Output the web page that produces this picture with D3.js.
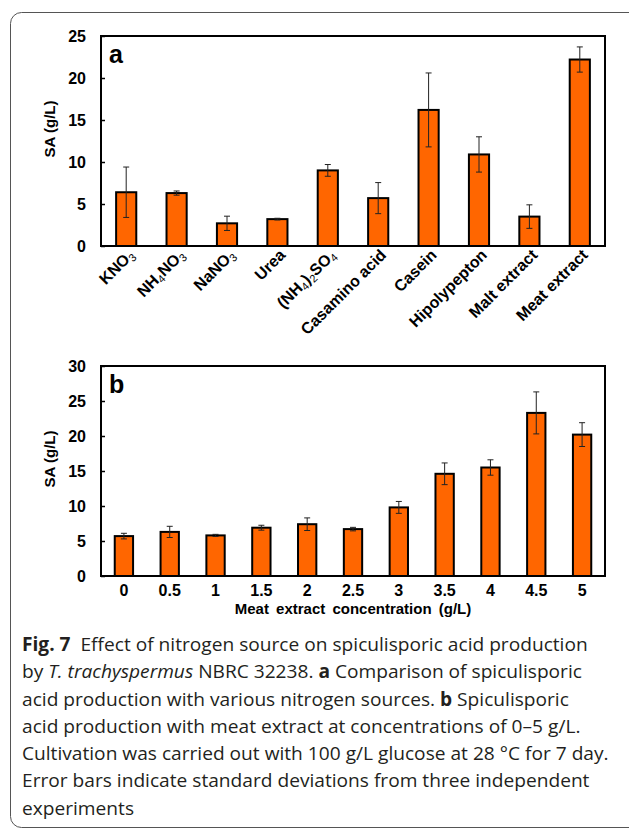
<!DOCTYPE html>
<html>
<head>
<meta charset="utf-8">
<script src="https://cdn.jsdelivr.net/npm/d3@7"></script>
<style>
  body { margin: 0; background: #fff; }
  svg { display: block; }
</style>
</head>
<body>
<div id="fig"></div>
<script>
// panel a: nitrogen sources ("_n" marks a subscript digit)
const sourcesA = ["KNO_3", "NH_4NO_3", "NaNO_3", "Urea", "(NH_4)_2SO_4", "Casamino acid", "Casein", "Hipolypepton", "Malt extract", "Meat extract"];
const meanA = [6.4, 6.3, 2.7, 3.2, 9.0, 5.7, 16.2, 10.9, 3.5, 22.2];
const sdA = [3.0, 0.25, 0.85, 0.1, 0.7, 1.85, 4.4, 2.1, 1.4, 1.5];
const ticksA = [0, 5, 10, 15, 20, 25];

// panel b: meat extract concentration (g/L)
const concB = ["0", "0.5", "1", "1.5", "2", "2.5", "3", "3.5", "4", "4.5", "5"];
const meanB = [5.7, 6.3, 5.8, 6.9, 7.4, 6.7, 9.8, 14.6, 15.5, 23.3, 20.2];
const sdB = [0.4, 0.8, 0.15, 0.35, 0.9, 0.25, 0.85, 1.55, 1.1, 3.0, 1.7];
const ticksB = [0, 5, 10, 15, 20, 25, 30];

const captionLines = [
  [["Fig. 7", "b"], ["  Effect of nitrogen source on spiculisporic acid production", ""]],
  [["by ", ""], ["T. trachyspermus", "i"], [" NBRC 32238. ", ""], ["a", "b"], [" Comparison of spiculisporic", ""]],
  [["acid production with various nitrogen sources. ", ""], ["b", "b"], [" Spiculisporic", ""]],
  [["acid production with meat extract at concentrations of 0\u20135 g/L.", ""]],
  [["Cultivation was carried out with 100 g/L glucose at 28 \u00b0C for 7 day.", ""]],
  [["Error bars indicate standard deviations from three independent", ""]],
  [["experiments", ""]]
];

const W = 629, H = 829;
const axisFont = "Arial, 'Liberation Sans', sans-serif";
const orange = "#ff6600";

const svg = d3.select("#fig").append("svg")
  .attr("width", W)
  .attr("height", H);

// outer rounded frame
svg.append("rect")
  .attr("x", 10.5).attr("y", 12.5)
  .attr("width", 640).attr("height", 815)
  .attr("rx", 11)
  .attr("fill", "none")
  .attr("stroke", "#555")
  .attr("stroke-width", 1);

function drawPanel(opts) {
  const { left, right, top, bottom, cats, means, sds, ticks, ymax, letter, pad } = opts;

  const x = d3.scaleBand().domain(cats).range([left, right]).paddingInner(pad).paddingOuter(pad / 2);
  const y = d3.scaleLinear().domain([0, ymax]).range([bottom, top]);

  const g = svg.append("g");

  // y axis with inward ticks
  const yAxis = g.append("g")
    .attr("transform", `translate(${left},0)`)
    .call(d3.axisLeft(y).tickValues(ticks).tickSizeInner(-4).tickSizeOuter(0).tickPadding(15));
  yAxis.select(".domain").remove();
  yAxis.selectAll("line").attr("stroke", "#000").attr("stroke-width", 1.5);
  yAxis.selectAll("text")
    .style("font-family", axisFont)
    .style("font-size", "16px")
    .style("font-weight", "bold")
    .attr("fill", "#000");

  // bars
  const data = cats.map((c, i) => ({ c, m: means[i], s: sds[i] }));
  g.selectAll("rect.bar")
    .data(data)
    .enter()
    .append("rect")
      .attr("class", "bar")
      .attr("x", d => x(d.c))
      .attr("y", d => y(d.m))
      .attr("width", x.bandwidth())
      .attr("height", d => y(0) - y(d.m))
      .attr("fill", orange)
      .attr("stroke", "#000")
      .attr("stroke-width", 2);

  // error bars
  const eb = g.selectAll("g.err")
    .data(data)
    .enter()
    .append("g")
      .attr("class", "err")
      .attr("stroke", "#222")
      .attr("stroke-width", 1);
  const cx = d => x(d.c) + x.bandwidth() / 2;
  eb.append("line")
    .attr("x1", cx).attr("x2", cx)
    .attr("y1", d => y(d.m + d.s)).attr("y2", d => y(d.m - d.s));
  eb.append("line")
    .attr("x1", d => cx(d) - 3).attr("x2", d => cx(d) + 3)
    .attr("y1", d => y(d.m + d.s)).attr("y2", d => y(d.m + d.s));
  eb.append("line")
    .attr("x1", d => cx(d) - 3).attr("x2", d => cx(d) + 3)
    .attr("y1", d => y(d.m - d.s)).attr("y2", d => y(d.m - d.s));

  // plot frame
  g.append("rect")
    .attr("x", left).attr("y", top)
    .attr("width", right - left).attr("height", bottom - top)
    .attr("fill", "none")
    .attr("stroke", "#000")
    .attr("stroke-width", 2);

  // panel letter
  g.append("text")
    .attr("x", left + 8).attr("y", top + 27)
    .style("font-family", axisFont)
    .style("font-size", "25px")
    .style("font-weight", "bold")
    .text(letter);

  // y axis title
  g.append("text")
    .attr("transform", `translate(55,${top + 93}) rotate(-90)`)
    .attr("text-anchor", "middle")
    .style("font-family", axisFont)
    .style("font-size", "15px")
    .style("font-weight", "bold")
    .text("SA (g/L)");

  return { x, y, g };
}

// panel a
const pa = drawPanel({
  left: 101, right: 605, top: 36, bottom: 246,
  cats: sourcesA, means: meanA, sds: sdA, ticks: ticksA, ymax: 25, letter: "a", pad: 0.6
});

// rotated category labels with subscripts
pa.g.selectAll("text.cat")
  .data(sourcesA)
  .enter()
  .append("text")
    .attr("class", "cat")
    .attr("text-anchor", "end")
    .attr("transform", d => `translate(${pa.x(d) + pa.x.bandwidth() / 2 + 9},256) rotate(-45)`)
    .style("font-family", axisFont)
    .style("font-size", "16px")
    .style("font-weight", "bold")
    .each(function(d) {
      const t = d3.select(this);
      const parts = d.split(/_(\d)/);
      parts.forEach((p, i) => {
        if (!p) return;
        if (i % 2 === 1) {
          t.append("tspan").attr("dy", 3).style("font-size", "11px").style("font-weight", "normal").text(p);
        } else {
          t.append("tspan").attr("dy", i > 0 ? -3 : 0).text(p);
        }
      });
    });

// panel b
const pb = drawPanel({
  left: 101, right: 605, top: 366, bottom: 576,
  cats: concB, means: meanB, sds: sdB, ticks: ticksB, ymax: 30, letter: "b", pad: 0.6
});

const xAxisB = pb.g.append("g")
  .attr("transform", "translate(0,576)")
  .call(d3.axisBottom(pb.x).tickSize(0).tickPadding(9));
xAxisB.select(".domain").remove();
xAxisB.selectAll("text")
  .style("font-family", axisFont)
  .style("font-size", "16px")
  .style("font-weight", "bold")
  .attr("fill", "#000");

pb.g.append("text")
  .attr("x", 353).attr("y", 614)
  .attr("text-anchor", "middle")
  .style("font-family", axisFont)
  .style("font-size", "15px")
  .style("font-weight", "bold")
  .style("word-spacing", "3px")
  .text("Meat extract concentration (g/L)");

// caption
const cap = svg.append("g").attr("class", "caption");
captionLines.forEach((segs, i) => {
  const t = cap.append("text")
    .attr("x", 0)
    .attr("y", 651 + i * 27.3)
    .style("font-family", "'Open Sans', 'Noto Sans', sans-serif")
    .style("font-size", "19px")
    .attr("fill", "#231f20");
  segs.forEach(([s, st]) => {
    const sp = t.append("tspan").text(s).attr("xml:space", "preserve");
    if (st === "b") sp.style("font-weight", "bold");
    if (st === "i") sp.style("font-style", "italic");
  });
});
// squeeze the caption so the longest line spans the same width as in the figure
const longest = d3.max(cap.selectAll("text").nodes(), n => n.getComputedTextLength());
const sx = 587 / longest;
cap.attr("transform", `translate(22,0) scale(${sx},1)`);
</script>
</body>
</html>
